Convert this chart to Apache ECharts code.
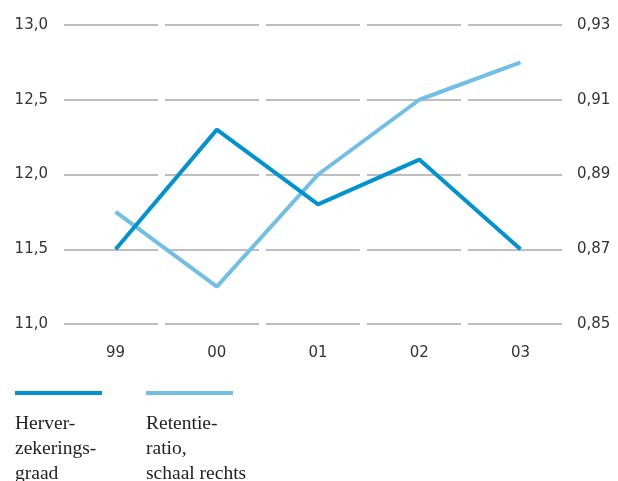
<!DOCTYPE html>
<html>
<head>
<meta charset="utf-8">
<script src="https://cdn.jsdelivr.net/npm/echarts@6/dist/echarts.min.js"></script>
<style>
	html, body { margin: 0; padding: 0; background: #fff; }
	#chart { width: 618px; height: 481px; }
</style>
</head>
<body>
<div id="chart"></div>
<script>
var jaren = ["99", "00", "01", "02", "03"]; //categorieen
var herverzekeringsgraad = [11.5, 12.3, 11.8, 12.1, 11.5]; //linker schaal
var retentieratio = [0.88, 0.86, 0.89, 0.91, 0.92]; //rechter schaal
var linksTicks = [11.0, 11.5, 12.0, 12.5, 13.0];
var rechtsTicks = [0.85, 0.87, 0.89, 0.91, 0.93];

var donker = "#0093d0";
var licht = "#72bfe6";
var asFont = "DejaVu Sans";

//punten als [index, waarde] zodat de x-as iets breder kan zijn dan de data
function punten(arr) {
	var res = [];
	for (var i = 0; i < arr.length; i++) {
		res.push([i, arr[i]]);
	}
	return res;
}

function komma(v, d) {
	return v.toFixed(d).replace(".", ",");
}

var myChart = echarts.init(document.getElementById("chart"));
myChart.setOption({
	animation: false,
	grid: { left: 64, right: 56, top: 25, bottom: 157 },
	xAxis: {
		type: "value",
		min: -0.51,
		max: 4.41,
		axisLine: { show: false },
		axisTick: { show: false },
		splitLine: { show: false },
		axisLabel: {
			customValues: [0, 1, 2, 3, 4],
			margin: 22,
			fontFamily: asFont,
			fontSize: 15,
			color: "#333",
			formatter: function(v) { return jaren[Math.round(v)]; }
		}
	},
	yAxis: [{
		type: "value",
		min: linksTicks[0],
		max: linksTicks[linksTicks.length - 1],
		interval: 0.5,
		axisLine: { show: false },
		axisTick: { show: false },
		axisLabel: {
			margin: 16,
			fontFamily: asFont,
			fontSize: 15,
			color: "#333",
			verticalAlign: "middle",
			padding: [0, 0, 6, 0],
			formatter: function(v) { return komma(v, 1); }
		},
		splitLine: {
			lineStyle: { color: "#a9a9ad", width: 1.5, type: [94, 7] }
		}
	}, {
		type: "value",
		position: "right",
		min: rechtsTicks[0],
		max: rechtsTicks[rechtsTicks.length - 1],
		interval: 0.02,
		axisLine: { show: false },
		axisTick: { show: false },
		splitLine: { show: false },
		axisLabel: {
			margin: 15,
			fontFamily: asFont,
			fontSize: 15,
			color: "#333",
			verticalAlign: "middle",
			padding: [0, 0, 6, 0],
			formatter: function(v) { return komma(v, 2); }
		}
	}],
	series: [{
		name: "Retentieratio",
		type: "line",
		yAxisIndex: 1,
		data: punten(retentieratio),
		symbol: "none",
		lineStyle: { color: licht, width: 4 }
	}, {
		name: "Herverzekeringsgraad",
		type: "line",
		yAxisIndex: 0,
		data: punten(herverzekeringsgraad),
		symbol: "none",
		lineStyle: { color: donker, width: 4 }
	}],
	//legenda onder de grafiek, tekst onder de lijn
	graphic: [
		{ type: "rect", left: 15, top: 391, shape: { width: 87, height: 4 }, style: { fill: donker } },
		{ type: "rect", left: 146, top: 391, shape: { width: 87, height: 4 }, style: { fill: licht } },
		{ type: "text", left: 15, top: 411, style: {
			text: "Herver-\nzekerings-\ngraad", fill: "#222",
			font: "19.5px 'Liberation Serif'", lineHeight: 25 } },
		{ type: "text", left: 146, top: 411, style: {
			text: "Retentie-\nratio,\nschaal rechts", fill: "#222",
			font: "19.5px 'Liberation Serif'", lineHeight: 25 } }
	]
});
</script>
</body>
</html>
